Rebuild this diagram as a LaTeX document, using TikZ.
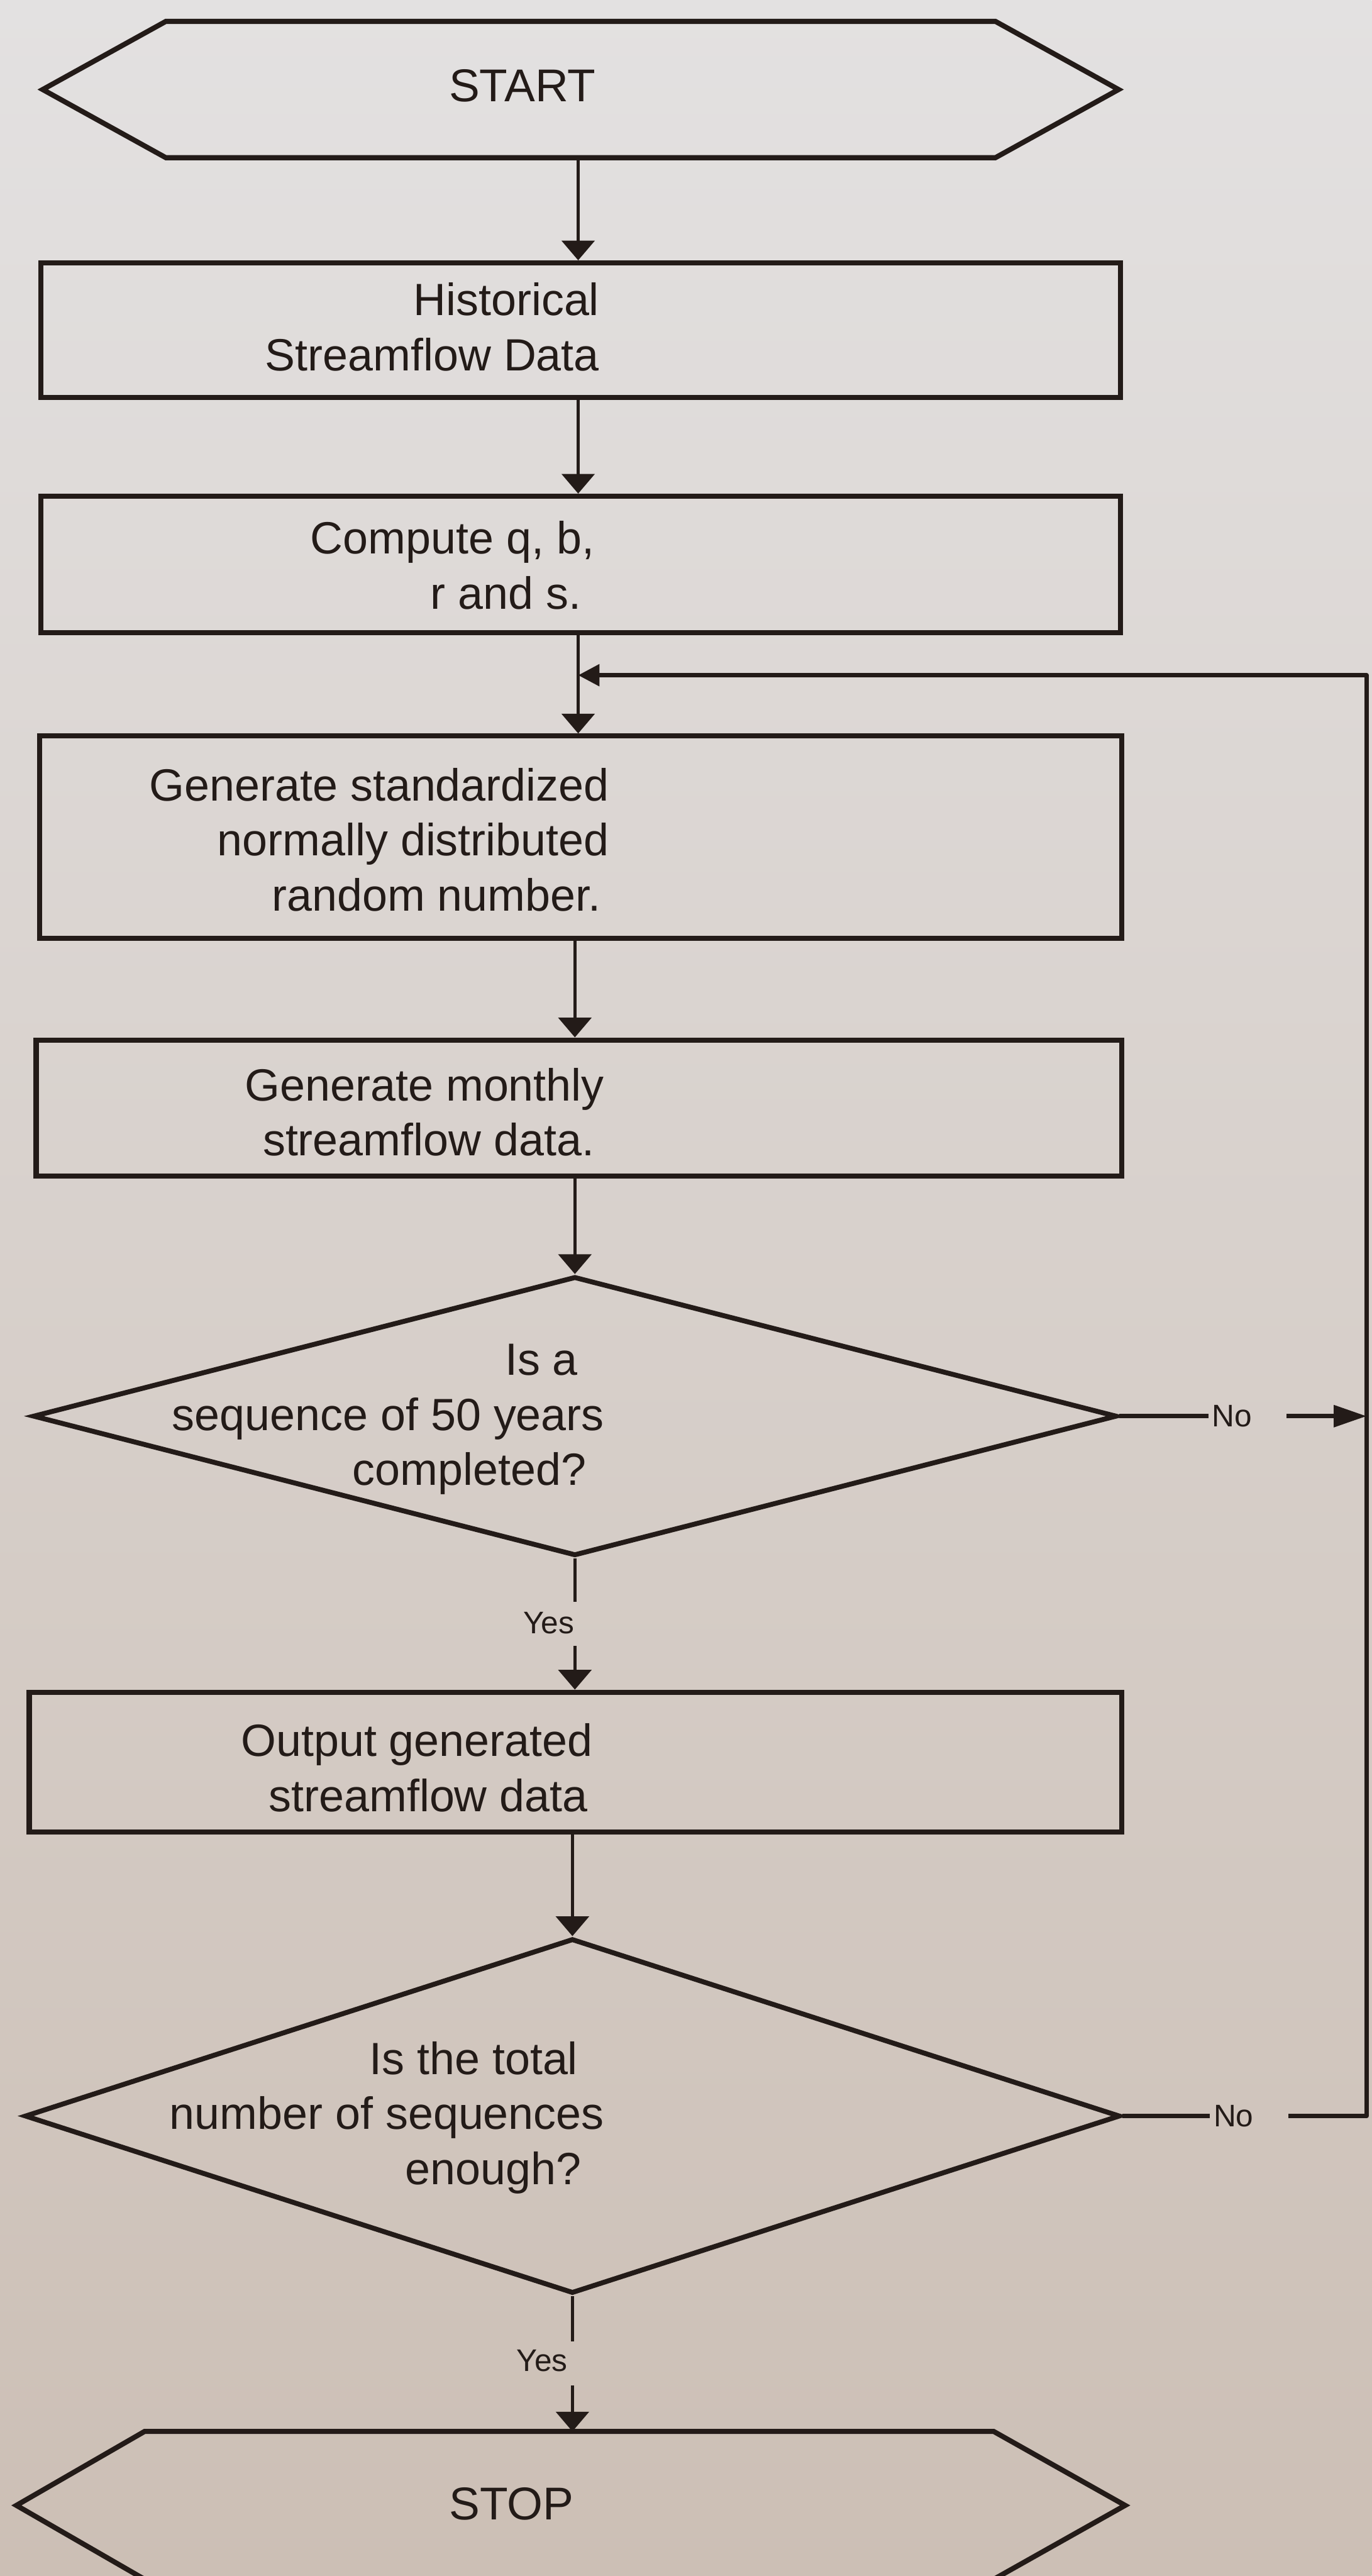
\documentclass[tikz,border=0pt]{standalone}
\usepackage{fontspec}
\setmainfont{Liberation Sans}
\usetikzlibrary{arrows.meta,shapes.geometric,calc}

\definecolor{paperTop}{HTML}{E3E1E1}
\definecolor{paperMid}{HTML}{D9D3C9}
\definecolor{paperBot}{HTML}{CCBFB5}
\definecolor{ink}{HTML}{231B18}

\begin{document}
\begin{tikzpicture}[x=1pt,y=-1pt,
  every node/.style={text=ink},
  procbox/.style={draw=ink, line width=3.1pt, rectangle, inner sep=0pt},
  decision/.style={draw=ink, line width=3pt, diamond, inner sep=0pt},
  terminal/.style={draw=ink, line width=3.1pt, line join=miter},
  body/.style={font=\fontsize{27.5}{33.5}\selectfont, align=right, inner sep=0pt, anchor=east},
  title/.style={font=\fontsize{28}{34}\selectfont, inner sep=0pt},
  tag/.style={font=\fontsize{19}{22}\selectfont, inner sep=0pt},
  flow/.style={draw=ink, line width=1.8pt, -{Triangle[length=12pt,width=20pt]}},
  flowline/.style={draw=ink, line width=1.8pt},
  loopline/.style={draw=ink, line width=2.6pt, line join=round},
]
\useasboundingbox (0,0) rectangle (835,1568);
\shade[top color=paperTop, middle color=paperMid, bottom color=paperBot]
  (0,0) rectangle (835,1568);

% terminal: START
\draw[terminal] (26,54.5) -- (101,13) -- (606,13) -- (681,54.5) -- (606,96) -- (101,96) -- cycle;
\node[title] (start) at (318,52) {START};
\coordinate (startOut) at (352,96);

% process boxes
\node[procbox, minimum width=657pt, minimum height=82pt]  (hist)  at (353.5,201)  {};
\node[procbox, minimum width=657pt, minimum height=83pt]  (comp)  at (353.5,343.5) {};
\node[procbox, minimum width=659pt, minimum height=123pt] (gen)   at (353.5,509.5) {};
\node[procbox, minimum width=661pt, minimum height=83pt]  (month) at (352.5,674.5) {};
\node[procbox, minimum width=665pt, minimum height=85pt]  (out)   at (350.3,1072.5) {};

% decisions
\node[decision, minimum width=660pt, minimum height=170pt] (seqD) at (350,862) {};
\node[decision, minimum width=667pt, minimum height=216pt] (totD) at (348.5,1288) {};

% terminal: STOP
\draw[terminal] (10,1525) -- (88,1480) -- (605,1480) -- (685,1525) -- (605,1570) -- (88,1570) -- cycle;
\node[title] (stop) at (311.5,1524) {STOP};
\coordinate (stopIn) at (344,1480);

% texts
\node[body] (histText)  at (365,199)  {Historical\\Streamflow Data};
\node[body] (compText)  at (362,344)  {Compute q, b,\\r and s.\hspace*{8pt}};
\node[body] (genText)   at (371,511)  {Generate standardized\\normally distributed\\random number.\hspace*{5pt}};
\node[body] (monthText) at (368,677)  {Generate monthly\\streamflow data.\hspace*{6pt}};
\node[body] (seqText)   at (368,864)  {Is a\hspace*{16pt}\\sequence of 50 years\\completed?\hspace*{11pt}};
\node[body] (outText)   at (361,1076) {Output generated\\streamflow data\hspace*{3pt}};
\node[body] (totText)   at (368,1289) {Is the total\hspace*{16pt}\\number of sequences\\enough?\hspace*{14pt}};

% main flow
\coordinate (join) at (352,411);
\draw[flow] (startOut) -- (startOut |- hist.north);
\draw[flow] (hist.south -| startOut) -- (comp.north -| startOut);
\draw[flow] (comp.south -| join) -- (gen.north -| join);
\draw[flow] (gen.south -| seqD.north) -- (month.north -| seqD.north);
\draw[flow] (month.south -| seqD.north) -- (seqD.north);

\node[tag] (yes1) at (334,988) {Yes};
\draw[flowline] (seqD.south) -- ($(seqD.south |- yes1.north)+(0,-6)$);
\draw[flow] ($(seqD.south |- yes1.south)+(0,7)$) -- (seqD.south |- out.north);

\draw[flow] (out.south -| totD.north) -- (totD.north);

\node[tag] (yes2) at (330,1437) {Yes};
\draw[flowline] (totD.south) -- ($(totD.south |- yes2.north)+(0,-5)$);
\draw[flow] ($(totD.south |- yes2.south)+(0,8)$) -- (totD.south |- stopIn);

% loop back on "No"
\coordinate (loopTop) at (832,411);
\node[tag] (no1) at (750,862) {No};
\draw[loopline] (seqD.east) -- ($(no1.west)+(-2,0)$);
\draw[loopline, -{Triangle[length=20pt,width=13pt]}] ($(no1.east)+(21,0)$) -- (no1.east -| loopTop);

\node[tag] (no2) at (751,1288) {No};
\draw[loopline] (totD.east) -- ($(no2.west)+(-2,0)$);
\draw[loopline, -{Triangle[length=13pt,width=13pt]}]
  ($(no2.east)+(21,0)$) -- (no2.east -| loopTop) -- (loopTop) -- (join);
\end{tikzpicture}
\end{document}
